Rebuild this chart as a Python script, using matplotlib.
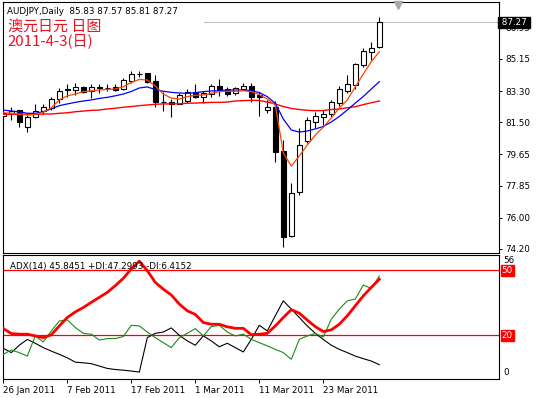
import matplotlib
matplotlib.use("Agg")
import matplotlib.pyplot as plt

W, H = 540, 398

symbol = "AUDJPY,Daily"
title_cn = "澳元日元 日图"
date_cn = "2011-4-3(日)"
date_labels = ["26 Jan 2011", "7 Feb 2011", "17 Feb 2011", "1 Mar 2011", "11 Mar 2011", "23 Mar 2011"]
date_bars = [0, 8, 16, 24, 32, 40]

opens = [81.88, 82.02, 82.21, 81.21, 81.79, 82.17, 82.31, 82.83, 83.40, 83.36,
         83.52, 83.32, 83.55, 83.48, 83.52, 83.42, 83.90, 84.29, 84.33, 83.90,
         82.65, 82.65, 82.56, 82.75, 83.23, 82.94, 83.13, 83.59, 83.42, 83.17,
         83.42, 83.59, 83.07, 82.21, 82.37, 79.84, 74.93, 77.48, 80.42, 81.54,
         81.82, 81.96, 82.63, 83.32, 83.65, 84.80, 85.57, 85.83]
highs = [82.15, 82.40, 82.23, 81.92, 82.54, 82.56, 82.94, 83.46, 83.71, 83.75,
         83.61, 83.71, 83.71, 83.71, 83.71, 84.04, 84.48, 84.48, 84.35, 84.23,
         83.27, 82.83, 83.17, 83.42, 83.71, 83.31, 83.71, 84.00, 83.52, 83.55,
         83.75, 83.75, 83.27, 82.79, 82.75, 80.48, 78.02, 81.17, 81.79, 82.11,
         82.21, 82.79, 83.59, 84.23, 84.94, 85.80, 86.11, 87.57]
lows = [81.63, 81.63, 81.25, 80.96, 81.73, 81.96, 82.21, 82.60, 82.98, 83.07,
        83.17, 82.88, 83.17, 83.31, 83.31, 83.36, 83.75, 84.10, 83.75, 82.40,
        82.17, 81.82, 82.54, 82.60, 82.88, 82.60, 82.94, 83.03, 83.03, 83.07,
        83.36, 82.69, 81.88, 82.02, 79.23, 74.33, 74.89, 77.31, 80.29, 81.16,
        81.25, 81.82, 82.44, 83.17, 83.40, 84.71, 85.09, 85.81]
closes = [82.02, 82.17, 81.50, 81.82, 82.17, 82.37, 82.84, 83.32, 83.35, 83.52,
          83.27, 83.55, 83.46, 83.49, 83.36, 83.94, 84.29, 84.30, 83.84, 82.65,
          82.66, 82.54, 83.07, 83.23, 82.94, 83.17, 83.59, 83.36, 83.13, 83.46,
          83.59, 82.98, 82.98, 82.37, 79.81, 74.91, 77.44, 80.19, 81.63, 81.86,
          81.96, 82.65, 83.40, 83.71, 84.86, 85.61, 85.80, 87.27]

ma_fast = [82.05, 82.02, 81.98, 81.92, 81.96, 82.08, 82.34, 82.79, 83.03, 83.13,
           83.27, 83.31, 83.36, 83.40, 83.42, 83.55, 83.80, 83.97, 83.94, 83.59,
           83.13, 82.90, 82.84, 82.98, 83.06, 83.08, 83.17, 83.27, 83.29, 83.29,
           83.32, 83.27, 83.10, 82.84, 82.50, 79.73, 78.98, 79.56, 80.19, 80.77,
           81.23, 81.75, 82.33, 82.79, 83.54, 84.29, 84.99, 85.57]
ma_mid = [82.21, 82.15, 82.11, 82.02, 82.02, 82.11, 82.27, 82.46, 82.56, 82.65,
          82.73, 82.79, 82.88, 82.94, 83.03, 83.13, 83.28, 83.48, 83.54, 83.39,
          83.29, 83.23, 83.19, 83.17, 83.21, 83.27, 83.31, 83.32, 83.36, 83.36,
          83.36, 83.32, 83.22, 82.98, 82.60, 81.69, 81.06, 80.94, 81.00, 81.12,
          81.26, 81.52, 81.84, 82.21, 82.61, 82.99, 83.42, 83.84]
ma_slow = [81.96, 81.96, 81.96, 81.96, 81.96, 81.98, 81.98, 82.02, 82.05, 82.11,
           82.15, 82.19, 82.21, 82.27, 82.31, 82.37, 82.41, 82.46, 82.50, 82.54,
           82.56, 82.56, 82.57, 82.60, 82.61, 82.63, 82.65, 82.65, 82.67, 82.73,
           82.75, 82.77, 82.76, 82.67, 82.56, 82.41, 82.30, 82.24, 82.19, 82.17,
           82.18, 82.24, 82.27, 82.34, 82.40, 82.52, 82.63, 82.73]

adx = [23.1, 20.8, 20.5, 20.5, 19.7, 18.9, 20.2, 24.3, 28.2, 30.8,
       32.8, 35.2, 37.5, 39.8, 42.9, 46.3, 50.6, 54.2, 49.8, 44.4,
       41.3, 38.6, 34.4, 31.3, 29.6, 25.9, 25.1, 25.1, 23.9, 23.2,
       23.2, 20.3, 20.5, 20.9, 24.3, 28.2, 31.8, 30.2, 27.0, 24.0,
       21.7, 22.5, 25.1, 29.0, 33.6, 38.2, 42.1, 45.85]
plus_di = [11.2, 13.2, 12.0, 10.4, 19.7, 16.9, 22.0, 26.6, 27.1, 23.6,
           20.9, 20.5, 17.8, 18.5, 18.5, 19.4, 24.6, 24.3, 21.5, 18.9,
           16.6, 14.3, 18.9, 20.9, 23.1, 19.7, 24.0, 24.6, 21.5, 19.7,
           20.5, 18.1, 16.6, 15.1, 13.5, 12.0, 8.9, 18.1, 19.7, 20.8,
           19.2, 27.4, 32.1, 35.9, 36.7, 43.2, 41.6, 47.3]
minus_di = [14.0, 12.0, 15.4, 18.1, 16.3, 14.3, 12.7, 11.2, 9.6, 7.6,
            7.3, 6.9, 5.8, 4.7, 4.2, 3.9, 3.5, 3.0, 18.9, 20.9,
            21.5, 23.4, 20.0, 17.4, 15.4, 19.7, 17.4, 14.7, 16.3, 14.3,
            12.3, 18.1, 24.6, 22.0, 29.0, 35.9, 32.1, 28.2, 24.3, 20.9,
            18.1, 15.4, 13.5, 12.0, 10.4, 9.2, 8.1, 6.42]
adx_levels = [20, 50]
price_ticks = [74.20, 76.00, 77.85, 79.65, 81.50, 83.30, 85.15, 86.95]
adx_text = "ADX(14) 45.8451 +DI:47.2993 -DI:6.4152"

FS = 6.3
plt.rcParams['font.family'] = ['DejaVu Sans']

fig = plt.figure(figsize=(W / 100, H / 100), dpi=100)
fig.patch.set_facecolor('white')


def frac(x0, y0, x1, y1):
    return [x0 / W, 1 - y1 / H, (x1 - x0) / W, (y1 - y0) / H]


ax = fig.add_axes(frac(2.7, 2.0, 498.7, 252.7))
ax2 = fig.add_axes(frac(2.7, 255.0, 498.7, 379.0))

n = len(closes)
xs = list(range(n))
XL = (-0.075, 61.925)

# --- candles
ax.vlines(xs, lows, highs, color='black', lw=0.8, zorder=2)
for i in xs:
    o, c = opens[i], closes[i]
    bottom = min(o, c)
    h = abs(c - o)
    fc = 'white' if c >= o else 'black'
    ax.bar(i, h, bottom=bottom, width=0.62, facecolor=fc, edgecolor='black',
           lw=0.8, zorder=3)

ax.plot(xs, ma_slow, color='#ff0000', lw=1.0, zorder=4)
ax.plot(xs, ma_mid, color='#0000ff', lw=0.9, zorder=4)
ax.plot(xs, ma_fast, color='#ff4500', lw=0.9, zorder=5)

ax.axhline(closes[-1], xmin=(204 - 2.7) / 496, xmax=1, color='#c0c0c0', lw=0.8, zorder=1)

ax.set_xlim(*XL)
ax.set_ylim(73.986, 88.435)
ax.set_xticks([])
ax.yaxis.tick_right()
ax.set_yticks(price_ticks)
ax.set_yticklabels([f"{t:.2f}" for t in price_ticks], fontsize=FS)
ax.tick_params(axis='y', length=2, width=0.7, pad=3)
for s in ax.spines.values():
    s.set_linewidth(0.8)

ax.text(1.0, closes[-1], f" {closes[-1]:.2f} ", transform=ax.get_yaxis_transform(),
        fontsize=FS, color='white', ha='left', va='center', zorder=10,
        bbox=dict(boxstyle='square,pad=0.12', fc='black', ec='black'))

ax.plot([0.796], [0.988], marker='v', ms=6, color='#a8a8a8', transform=ax.transAxes,
        clip_on=False, zorder=10)

fig.text(7.3 / W, 1 - 11.5 / H,
         f"{symbol}  {opens[-1]:.2f} {highs[-1]:.2f} {lows[-1]:.2f} {closes[-1]:.2f}",
         fontsize=FS, ha='left', va='center', color='black')
fig.text(7.5 / W, 1 - 20.0 / H, title_cn, fontsize=10.8, color='#ee1122',
         ha='left', va='top', weight='medium', family=['Noto Sans CJK SC', 'DejaVu Sans'])
fig.text(7.5 / W, 1 - 33.0 / H, date_cn, fontsize=10.8, color='#ee1122',
         ha='left', va='top', weight='medium', family=['Noto Sans CJK SC', 'DejaVu Sans'])

# --- ADX panel
for lv in adx_levels:
    ax2.axhline(lv, color='#ff0000', lw=0.9, zorder=1)
ax2.plot(xs, minus_di, color='black', lw=0.8, zorder=2)
ax2.plot(xs, plus_di, color='#1a8a1a', lw=0.8, zorder=3)
ax2.plot(xs, adx, color='#ff0000', lw=2.0, zorder=4)

ax2.set_xlim(*XL)
ax2.set_ylim(-0.18, 57.05)
ax2.set_yticks([])
ax2.set_xticks(date_bars)
ax2.set_xticklabels(date_labels, fontsize=FS)
for lbl in ax2.get_xticklabels():
    lbl.set_ha('left')
ax2.tick_params(axis='x', length=3, width=0.7, pad=2)
for s in ax2.spines.values():
    s.set_linewidth(0.8)

yt = ax2.get_yaxis_transform()
ax2.annotate("56", xy=(1.009, 56), xycoords=yt, xytext=(0, -2.5), textcoords='offset points',
             fontsize=FS, ha='left', va='center')
ax2.annotate("0", xy=(1.009, 0), xycoords=yt, xytext=(0, 1.5), textcoords='offset points',
             fontsize=FS, ha='left', va='bottom')
for lv in adx_levels:
    ax2.text(1.006, lv, f"{lv}", transform=yt, fontsize=FS, color='white',
             ha='left', va='center',
             bbox=dict(boxstyle='square,pad=0.12', fc='#ff0000', ec='#ff0000'))
ax2.text(7.3 / 496, 0.91, adx_text, transform=ax2.transAxes, fontsize=FS,
         ha='left', va='center', zorder=6)

fig.savefig("out.png", dpi=100, facecolor='white')
